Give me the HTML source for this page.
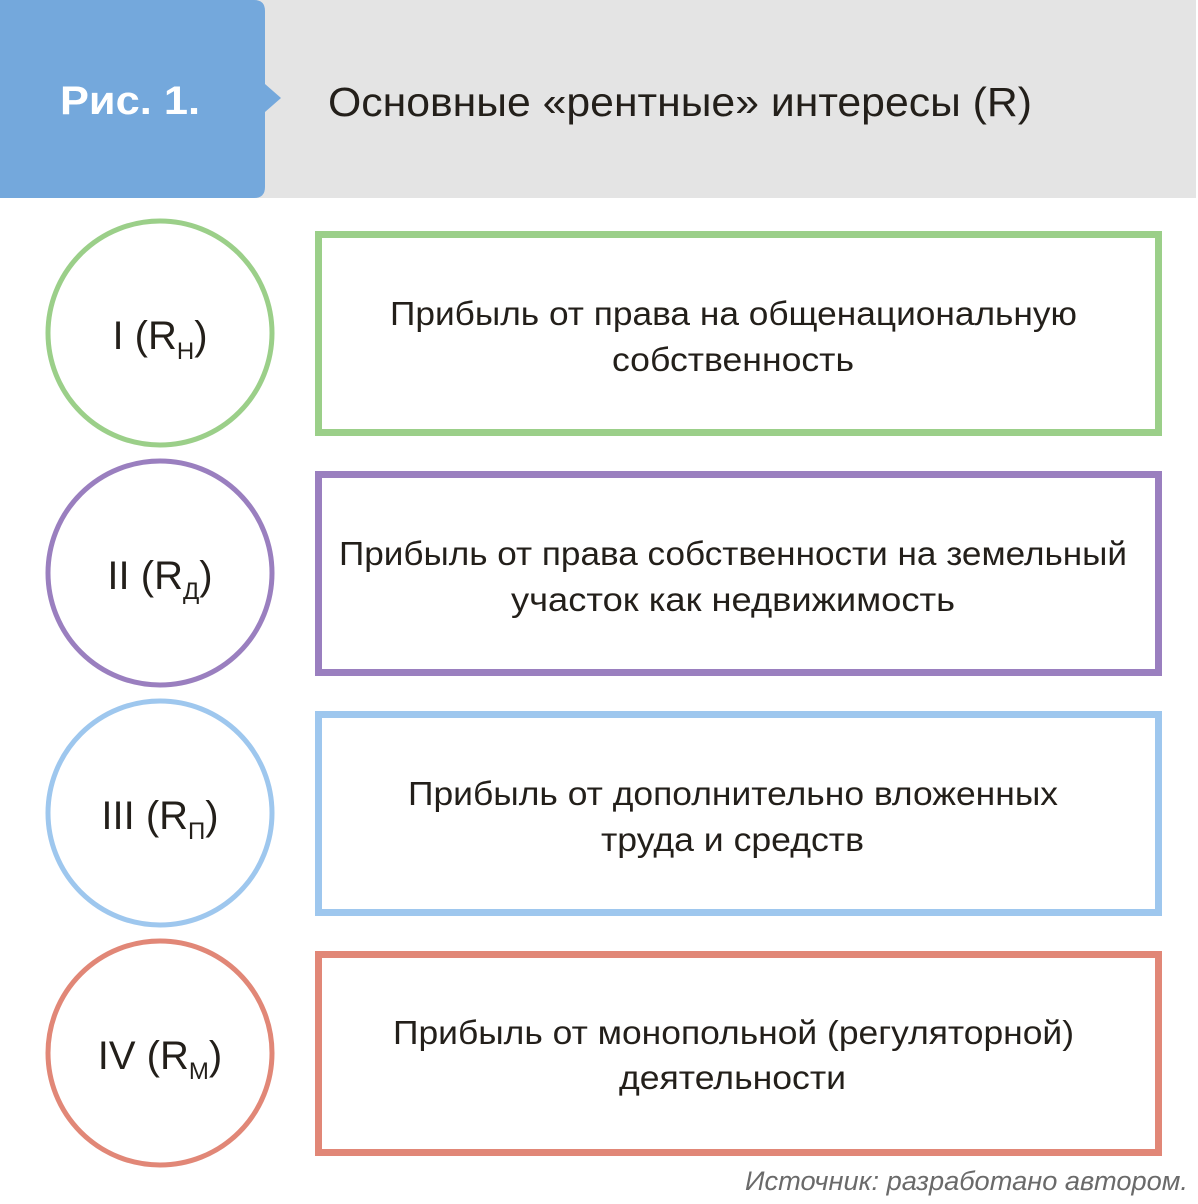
<!DOCTYPE html>
<html><head><meta charset="utf-8"><style>
html,body{margin:0;padding:0;background:#fff;}
body{width:1198px;height:1199px;overflow:hidden;}
svg text{font-family:"Liberation Sans","DejaVu Sans",sans-serif;}
</style></head><body>
<svg width="1198" height="1199" viewBox="0 0 1198 1199" xmlns="http://www.w3.org/2000/svg">
<rect x="0" y="0" width="1196" height="198" fill="#e4e4e4"/>
<path d="M0 0 H254 Q265 0 265 11 V84 L281 98 L265 112 V187 Q265 198 254 198 H0 Z" fill="#74a8dc"/>
<text x="60" y="114" font-size="40" font-weight="bold" fill="#fff" textLength="140" lengthAdjust="spacingAndGlyphs">Рис. 1.</text>
<text x="328" y="116" font-size="41" fill="#231f1a" textLength="704" lengthAdjust="spacingAndGlyphs">Основные «рентные» интересы (R)</text>

<g fill="none" stroke-width="5">
<circle cx="160" cy="333" r="112" stroke="#9bcf89"/>
<circle cx="160" cy="573" r="112" stroke="#9a7fbf"/>
<circle cx="160" cy="813" r="112" stroke="#9ec7ee"/>
<circle cx="160" cy="1053" r="112" stroke="#e18777"/>
</g>
<g fill="none" stroke-width="7">
<rect x="318.5" y="234.5" width="840" height="198" stroke="#9bcf89"/>
<rect x="318.5" y="474.5" width="840" height="198" stroke="#9a7fbf"/>
<rect x="318.5" y="714.5" width="840" height="198" stroke="#9ec7ee"/>
<rect x="318.5" y="954.5" width="840" height="198" stroke="#e18777"/>
</g>

<g font-size="40" fill="#231f1a" text-anchor="middle">
<text x="160" y="349">I (R<tspan font-size="24" dy="10">Н</tspan><tspan dy="-10">)</tspan></text>
<text x="160" y="589">II (R<tspan font-size="24" dy="10">Д</tspan><tspan dy="-10">)</tspan></text>
<text x="160" y="829">III (R<tspan font-size="24" dy="10">П</tspan><tspan dy="-10">)</tspan></text>
<text x="160" y="1069">IV (R<tspan font-size="24" dy="10">М</tspan><tspan dy="-10">)</tspan></text>
</g>
<g font-size="33" fill="#231f1a" lengthAdjust="spacingAndGlyphs">
<text x="390" y="325" textLength="687" lengthAdjust="spacingAndGlyphs">Прибыль от права на общенациональную</text>
<text x="612" y="371" textLength="242" lengthAdjust="spacingAndGlyphs">собственность</text>
<text x="339" y="565" textLength="788" lengthAdjust="spacingAndGlyphs">Прибыль от права собственности на земельный</text>
<text x="511" y="611" textLength="444" lengthAdjust="spacingAndGlyphs">участок как недвижимость</text>
<text x="408" y="805" textLength="650" lengthAdjust="spacingAndGlyphs">Прибыль от дополнительно вложенных</text>
<text x="601" y="851" textLength="263" lengthAdjust="spacingAndGlyphs">труда и средств</text>
<text x="393" y="1044" textLength="681" lengthAdjust="spacingAndGlyphs">Прибыль от монопольной (регуляторной)</text>
<text x="619" y="1089" textLength="227" lengthAdjust="spacingAndGlyphs">деятельности</text>
</g>
<text x="745" y="1190" font-size="27" font-style="italic" fill="#6a6a6a" textLength="443" lengthAdjust="spacingAndGlyphs">Источник: разработано автором.</text>
</svg>
</body></html>
